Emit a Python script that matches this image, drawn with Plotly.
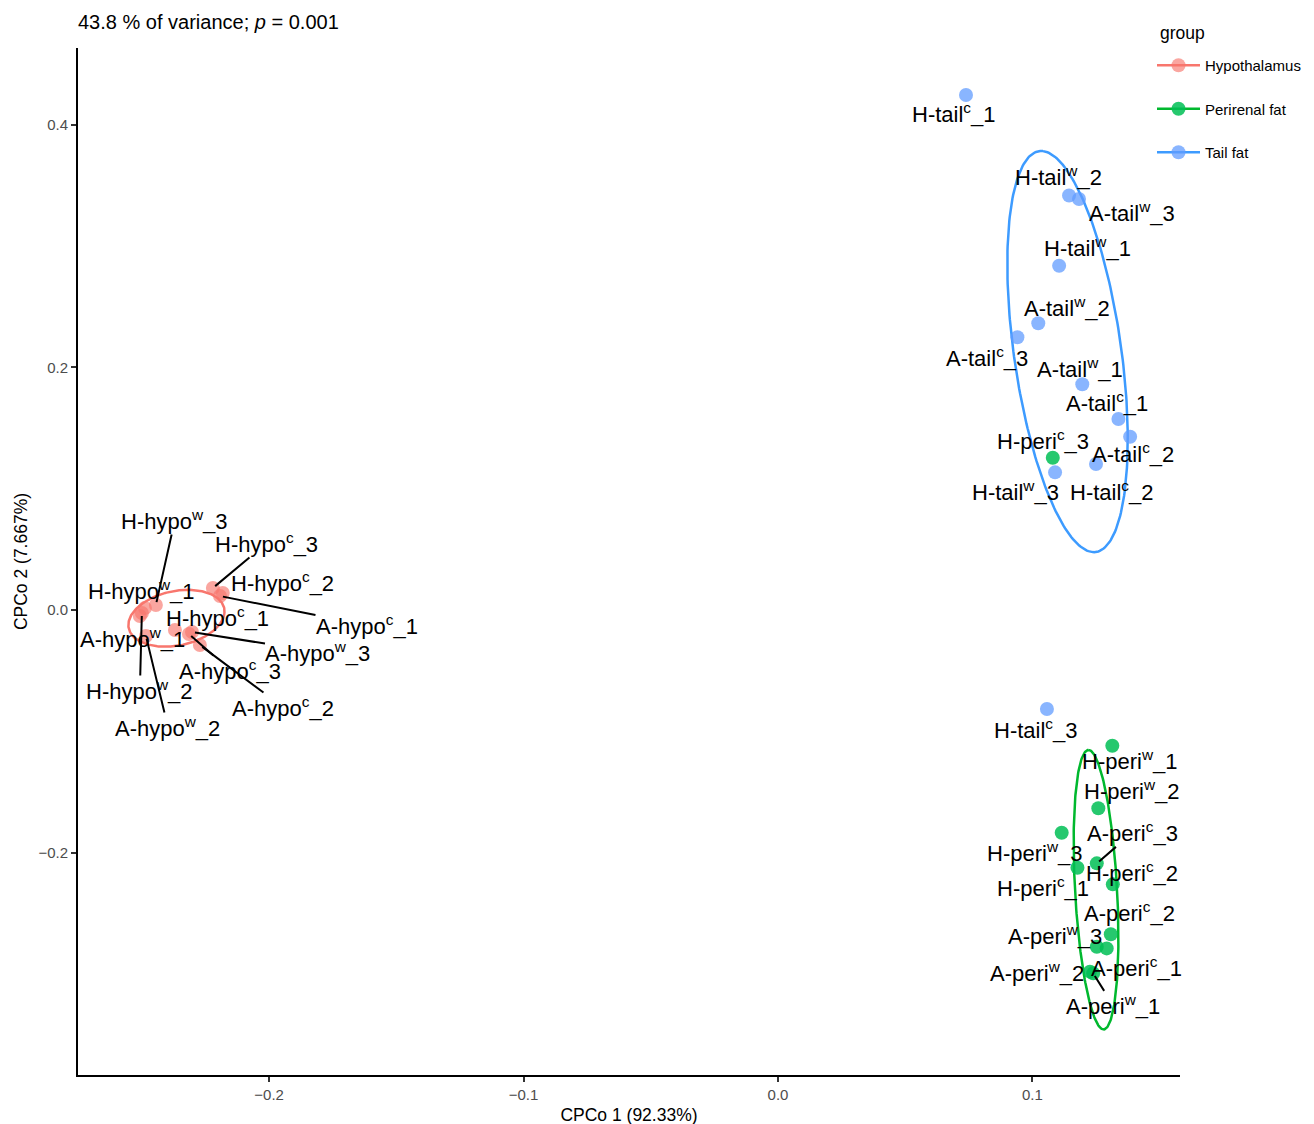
import numpy as np
import plotly.graph_objects as go

# ---------------- data ----------------
groups = ["Hypothalamus", "Perirenal fat", "Tail fat"]

hypo_names = ["H-hypo<sup>c</sup>_3", "H-hypo<sup>c</sup>_2", "A-hypo<sup>c</sup>_1", "H-hypo<sup>w</sup>_3",
              "H-hypo<sup>w</sup>_1", "H-hypo<sup>w</sup>_2", "A-hypo<sup>w</sup>_1", "A-hypo<sup>w</sup>_2",
              "H-hypo<sup>c</sup>_1", "A-hypo<sup>w</sup>_3", "A-hypo<sup>c</sup>_3", "A-hypo<sup>c</sup>_2"]
hypo_x = [-0.2221, -0.2182, -0.2193, -0.2445, -0.2488, -0.2500, -0.2508, -0.2484, -0.2370, -0.2303, -0.2315, -0.2272]
hypo_y = [0.0181, 0.0140, 0.0115, 0.0041, 0.0016, -0.0025, -0.0049, -0.0214, -0.0165, -0.0181, -0.0198, -0.0289]

peri_names = ["H-peri<sup>c</sup>_3", "H-peri<sup>w</sup>_1", "H-peri<sup>w</sup>_2", "A-peri<sup>c</sup>_3",
              "H-peri<sup>w</sup>_3", "H-peri<sup>c</sup>_2", "H-peri<sup>c</sup>_1", "A-peri<sup>c</sup>_2",
              "A-peri<sup>w</sup>_3", "A-peri<sup>c</sup>_1", "A-peri<sup>w</sup>_2", "A-peri<sup>w</sup>_1"]
peri_x = [0.1080, 0.1314, 0.1259, 0.1253, 0.1115, 0.1316, 0.1177, 0.1308, 0.1253, 0.1292, 0.1226, 0.1239]
peri_y = [0.1256, -0.1119, -0.1635, -0.2089, -0.1836, -0.2262, -0.2125, -0.2674, -0.2776, -0.2790, -0.2982, -0.2996]

tail_names = ["H-tail<sup>c</sup>_1", "H-tail<sup>w</sup>_2", "A-tail<sup>w</sup>_3", "H-tail<sup>w</sup>_1",
              "A-tail<sup>w</sup>_2", "A-tail<sup>c</sup>_3", "A-tail<sup>w</sup>_1", "A-tail<sup>c</sup>_1",
              "A-tail<sup>c</sup>_2", "H-tail<sup>w</sup>_3", "H-tail<sup>c</sup>_2", "H-tail<sup>c</sup>_3"]
tail_x = [0.0739, 0.1144, 0.1183, 0.1105, 0.1023, 0.0941, 0.1196, 0.1338, 0.1384, 0.1089, 0.1250, 0.1057]
tail_y = [0.4246, 0.3418, 0.3389, 0.2839, 0.2364, 0.2249, 0.1861, 0.1575, 0.1429, 0.1135, 0.1204, -0.0816]

# 95% ellipse summaries (centre + two conjugate semi-diameters), per group
ell_cx = [-0.2364, 0.1250, 0.1138]
ell_cy = [-0.0068, -0.2306, 0.2131]
ell_ux = [0.01887, -0.00303, -0.00963]
ell_uy = [0.00412, 0.11519, 0.16530]
ell_vx = [0.00118, 0.00826, 0.02162]
ell_vy = [0.02309, 0.00099, -0.00552]

x_ticks = [-0.2, -0.1, 0.0, 0.1]
y_ticks = [-0.2, 0.0, 0.2, 0.4]

# ---------------- styling / label layout ----------------
point_colors = ["rgba(248,118,109,0.65)", "rgba(0,190,85,0.85)", "rgba(97,156,255,0.75)"]
line_colors = ["#F8766D", "#00B82E", "#3D9BFF"]

# label offsets in pixels (dx, dy) and leader-line flag
hypo_lab = [(54, -45, 1), (60, -11, 0), (147, 29, 1), (19, -85, 1), (-3, -18, 0), (-2, 77, 1),
            (-7, 22, 0), (22, 91, 1), (43, -13, 0), (126, 20, 1), (41, 36, 1), (83, 62, 1)]
peri_lab = [(-10, -18, 0), (18, 14, 0), (34, -18, 0), (36, -31, 1), (-27, 19, 0), (19, -12, 0),
            (-34, 19, 0), (19, -22, 0), (-42, -12, 1), (30, 19, 0), (-53, 0, 0), (20, 32, 1)]
tail_lab = [(-12, 18, 0), (-11, -19, 0), (53, 13, 0), (28, -19, 0), (29, -16, 0), (-30, 20, 0),
            (-2, -16, 0), (-11, -17, 0), (3, 16, 0), (-40, 19, 0), (16, 27, 0), (-11, 20, 0)]

FONT = "Liberation Sans, Arial, sans-serif"

# page body adds an 8px margin; the figure is offset by 8px and its lower edge falls below the window
W, H = 1298, 1124
ML, MT = 70, 40
PW, PH = 1102, 1027

fig = go.Figure()

data_sets = [(hypo_names, hypo_x, hypo_y, hypo_lab),
             (peri_names, peri_x, peri_y, peri_lab),
             (tail_names, tail_x, tail_y, tail_lab)]

t = np.linspace(0, 2 * np.pi, 240)
for i, g in enumerate(groups):
    ex = ell_cx[i] + ell_ux[i] * np.cos(t) + ell_vx[i] * np.sin(t)
    ey = ell_cy[i] + ell_uy[i] * np.cos(t) + ell_vy[i] * np.sin(t)
    fig.add_trace(go.Scatter(x=ex, y=ey, mode="lines", line=dict(color=line_colors[i], width=2.5),
                             showlegend=False, hoverinfo="skip", legendgroup=g))

for i, g in enumerate(groups):
    names, xs, ys, _ = data_sets[i]
    fig.add_trace(go.Scatter(x=xs, y=ys, mode="markers", name=g, text=names,
                             marker=dict(color=point_colors[i], size=14, line=dict(width=0)),
                             showlegend=False, legendgroup=g))

# legend entries (line + point, like the ggplot key)
for i, g in enumerate(groups):
    fig.add_trace(go.Scatter(x=[None], y=[None], mode="lines+markers", name=g, legendgroup=g,
                             line=dict(color=line_colors[i], width=2.5),
                             marker=dict(color=point_colors[i], size=14)))

annotations = []
for names, xs, ys, labs in data_sets:
    for n, xv, yv, (dx, dy, ln) in zip(names, xs, ys, labs):
        annotations.append(dict(
            x=xv, y=yv, xref="x", yref="y", text=n, showarrow=True, ax=dx, ay=dy,
            arrowhead=0, arrowwidth=2, standoff=3,
            arrowcolor="black" if ln else "rgba(0,0,0,0)",
            font=dict(family=FONT, size=22, color="black"), borderpad=0))

# legend title
annotations.append(dict(text="group", xref="paper", yref="paper",
                        x=(1174 - ML) / PW, y=1 + (MT - 25) / PH, xanchor="center", yanchor="middle",
                        showarrow=False, font=dict(family=FONT, size=17.5, color="black")))

fig.update_layout(
    width=W, height=H,
    margin=dict(l=ML, r=W - ML - PW, t=MT, b=H - MT - PH, autoexpand=False),
    paper_bgcolor="white", plot_bgcolor="white",
    font=dict(family=FONT, color="black"),
    title=dict(text="43.8 % of variance; <i>p</i> = 0.001", x=ML / W, xanchor="left",
               y=1 - 14 / H, yanchor="middle", yref="container",
               font=dict(family=FONT, size=20, color="black")),
    annotations=annotations,
    legend=dict(font=dict(size=15, family=FONT, color="black"),
                x=(1144 - ML) / PW, xanchor="left", y=1 + (MT - 41) / PH, yanchor="top",
                tracegroupgap=21, itemwidth=43, bgcolor="rgba(0,0,0,0)"),
    showlegend=True,
)

fig.update_xaxes(range=[-0.2751, 0.158], tickvals=x_ticks, tickformat=".1f", automargin=False,
                 showline=True, linecolor="black", linewidth=2, mirror=False,
                 ticks="outside", ticklen=5, tickwidth=2, tickcolor="#333333",
                 tickfont=dict(size=15, color="#4D4D4D", family=FONT),
                 showgrid=False, zeroline=False,
                 title=dict(text="CPCo 1 (92.33%)", font=dict(size=17.5, color="black", family=FONT),
                            standoff=7))
fig.update_yaxes(range=[-0.3834, 0.4634], tickvals=y_ticks, tickformat=".1f", automargin=False,
                 showline=True, linecolor="black", linewidth=2, mirror=False,
                 ticks="outside", ticklen=5, tickwidth=2, tickcolor="#333333",
                 tickfont=dict(size=15, color="#4D4D4D", family=FONT),
                 showgrid=False, zeroline=False,
                 title=dict(text="CPCo 2 (7.667%)", font=dict(size=17.5, color="black", family=FONT),
                            standoff=6))

fig.write_html("out.html")
